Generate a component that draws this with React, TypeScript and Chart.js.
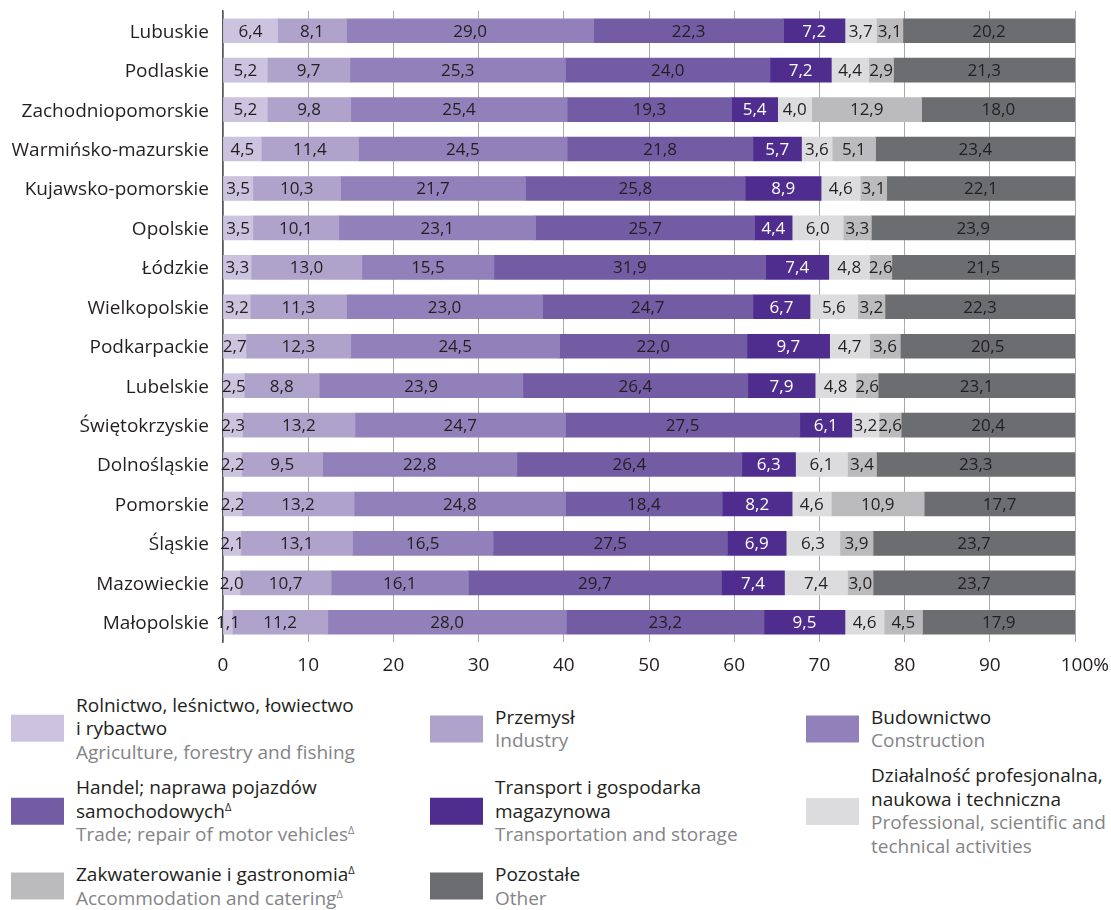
import React, { useEffect, useRef } from "react";
import { Chart, registerables } from "chart.js";

Chart.register(...registerables);

const regions = [
  "Lubuskie", "Podlaskie", "Zachodniopomorskie", "Warmińsko-mazurskie", "Kujawsko-pomorskie",
  "Opolskie", "Łódzkie", "Wielkopolskie", "Podkarpackie", "Lubelskie", "Świętokrzyskie",
  "Dolnośląskie", "Pomorskie", "Śląskie", "Mazowieckie", "Małopolskie",
];

const agriculture = [6.4, 5.2, 5.2, 4.5, 3.5, 3.5, 3.3, 3.2, 2.7, 2.5, 2.3, 2.2, 2.2, 2.1, 2.0, 1.1];
const industry = [8.1, 9.7, 9.8, 11.4, 10.3, 10.1, 13.0, 11.3, 12.3, 8.8, 13.2, 9.5, 13.2, 13.1, 10.7, 11.2];
const construction = [29.0, 25.3, 25.4, 24.5, 21.7, 23.1, 15.5, 23.0, 24.5, 23.9, 24.7, 22.8, 24.8, 16.5, 16.1, 28.0];
const trade = [22.3, 24.0, 19.3, 21.8, 25.8, 25.7, 31.9, 24.7, 22.0, 26.4, 27.5, 26.4, 18.4, 27.5, 29.7, 23.2];
const transport = [7.2, 7.2, 5.4, 5.7, 8.9, 4.4, 7.4, 6.7, 9.7, 7.9, 6.1, 6.3, 8.2, 6.9, 7.4, 9.5];
const professional = [3.7, 4.4, 4.0, 3.6, 4.6, 6.0, 4.8, 5.6, 4.7, 4.8, 3.2, 6.1, 4.6, 6.3, 7.4, 4.6];
const accommodation = [3.1, 2.9, 12.9, 5.1, 3.1, 3.3, 2.6, 3.2, 3.6, 2.6, 2.6, 3.4, 10.9, 3.9, 3.0, 4.5];
const other = [20.2, 21.3, 18.0, 23.4, 22.1, 23.9, 21.5, 22.3, 20.5, 23.1, 20.4, 23.3, 17.7, 23.7, 23.7, 17.9];

const seriesValues = [agriculture, industry, construction, trade, transport, professional, accommodation, other];

const seriesColors = ["#ccc4df", "#afa3cc", "#9180b9", "#745ca5", "#4f2d8f", "#dcdcde", "#bbbbbe", "#6c6d70"];
const labelColors = ["#231f20", "#231f20", "#231f20", "#231f20", "#ffffff", "#231f20", "#231f20", "#231f20"];

const polishLabels = [
  "Rolnictwo, leśnictwo, łowiectwo\ni rybactwo",
  "Przemysł",
  "Budownictwo",
  "Handel; naprawa pojazdów\nsamochodowychΔ",
  "Transport i gospodarka\nmagazynowa",
  "Działalność profesjonalna,\nnaukowa i techniczna",
  "Zakwaterowanie i gastronomiaΔ",
  "Pozostałe",
];
const englishLabels = [
  "Agriculture, forestry and fishing",
  "Industry",
  "Construction",
  "Trade; repair of motor vehiclesΔ",
  "Transportation and storage",
  "Professional, scientific and\ntechnical activities",
  "Accommodation and cateringΔ",
  "Other",
];

const xTicks = [0, 10, 20, 30, 40, 50, 60, 70, 80, 90, 100];

const FONT = "'Open Sans', 'Noto Sans', sans-serif";

const fmt = (v: number) => v.toFixed(1).replace(".", ",");

const valueLabelPlugin = {
  id: "valueLabels",
  afterDatasetsDraw(chart: any) {
    const ctx = chart.ctx;
    ctx.save();
    ctx.font = `17px ${FONT}`;
    ctx.textAlign = "center";
    ctx.textBaseline = "middle";
    chart.data.datasets.forEach((ds: any, di: number) => {
      const meta = chart.getDatasetMeta(di);
      meta.data.forEach((bar: any, i: number) => {
        const v = ds.data[i];
        const cx = (bar.x + bar.base) / 2;
        ctx.fillStyle = labelColors[di];
        ctx.fillText(fmt(v), cx, bar.y + 1);
      });
    });
    ctx.restore();
  },
};

function withDelta(text: string) {
  const parts = text.split("Δ");
  const out: any[] = [];
  parts.forEach((p, i) => {
    out.push(<React.Fragment key={"t" + i}>{p}</React.Fragment>);
    if (i < parts.length - 1)
      out.push(
        <span key={"d" + i} style={{ fontSize: 11, verticalAlign: "7px", lineHeight: 0 }}>
          Δ
        </span>
      );
  });
  return out;
}

const colSwatchX = [11, 430, 806];
const rowCenterY = [728.5, 811, 886];

export default function App() {
  const canvasRef = useRef<HTMLCanvasElement | null>(null);

  useEffect(() => {
    document.body.style.margin = "0";
    const canvas = canvasRef.current!;
    const chart = new Chart(canvas, {
      type: "bar",
      data: {
        labels: regions,
        datasets: seriesValues.map((vals, i) => ({
          label: englishLabels[i],
          data: vals,
          backgroundColor: seriesColors[i],
          borderWidth: 0,
          barThickness: 24,
        })),
      },
      options: {
        indexAxis: "y",
        animation: false,
        responsive: false,
        events: [],
        layout: { padding: { top: 11, right: 36, left: 0, bottom: 0 } },
        plugins: {
          legend: { display: false },
          tooltip: { enabled: false },
          title: { display: false },
        },
        scales: {
          x: {
            type: "linear",
            stacked: true,
            min: 0,
            max: 100,
            afterBuildTicks(scale: any) {
              scale.ticks = xTicks.map((v) => ({ value: v }));
            },
            afterFit(scale: any) {
              scale.height = 48;
              scale.paddingLeft = 0;
              scale.paddingRight = 0;
            },
            grid: {
              color: "#a9a9ab",
              lineWidth: 1,
              drawTicks: false,
            },
            border: { display: false },
            ticks: {
              padding: 12,
              color: "#231f20",
              font: { family: FONT, size: 19 },
              callback: (v: any) => (v === 100 ? "    100%" : String(v)),
              maxRotation: 0,
              autoSkip: false,
            },
          },
          y: {
            stacked: true,
            afterFit(scale: any) {
              scale.width = 223;
              scale.paddingTop = 0;
              scale.paddingBottom = 0;
            },
            grid: { display: false, drawTicks: false },
            border: { display: true, color: "#5a5a5c", width: 1.5 },
            ticks: {
              padding: 14,
              labelOffset: 1.5,
              color: "#231f20",
              font: { family: FONT, size: 19 },
              autoSkip: false,
            },
          },
        },
      } as any,
      plugins: [valueLabelPlugin],
    });
    return () => chart.destroy();
  }, []);

  return (
    <div
      style={{
        position: "absolute",
        left: 0,
        top: 0,
        width: 1111,
        height: 910,
        overflow: "hidden",
        background: "#ffffff",
        fontFamily: FONT,
      }}
    >
      <canvas ref={canvasRef} width={1111} height={690} style={{ display: "block" }} />
      {polishLabels.map((pl, i) => {
        const col = i % 3;
        const row = Math.floor(i / 3);
        return (
          <div
            key={i}
            style={{
              position: "absolute",
              left: colSwatchX[col],
              top: rowCenterY[row],
              transform: "translateY(-50%)",
              display: "flex",
              alignItems: "center",
            }}
          >
            <div style={{ width: 53, height: 27, background: seriesColors[i], flex: "0 0 auto" }} />
            <div style={{ marginLeft: 12, fontSize: 19, lineHeight: "23.5px", whiteSpace: "pre" }}>
              <div style={{ color: "#231f20" }}>{withDelta(pl)}</div>
              <div style={{ color: "#848487" }}>{withDelta(englishLabels[i])}</div>
            </div>
          </div>
        );
      })}
    </div>
  );
}
